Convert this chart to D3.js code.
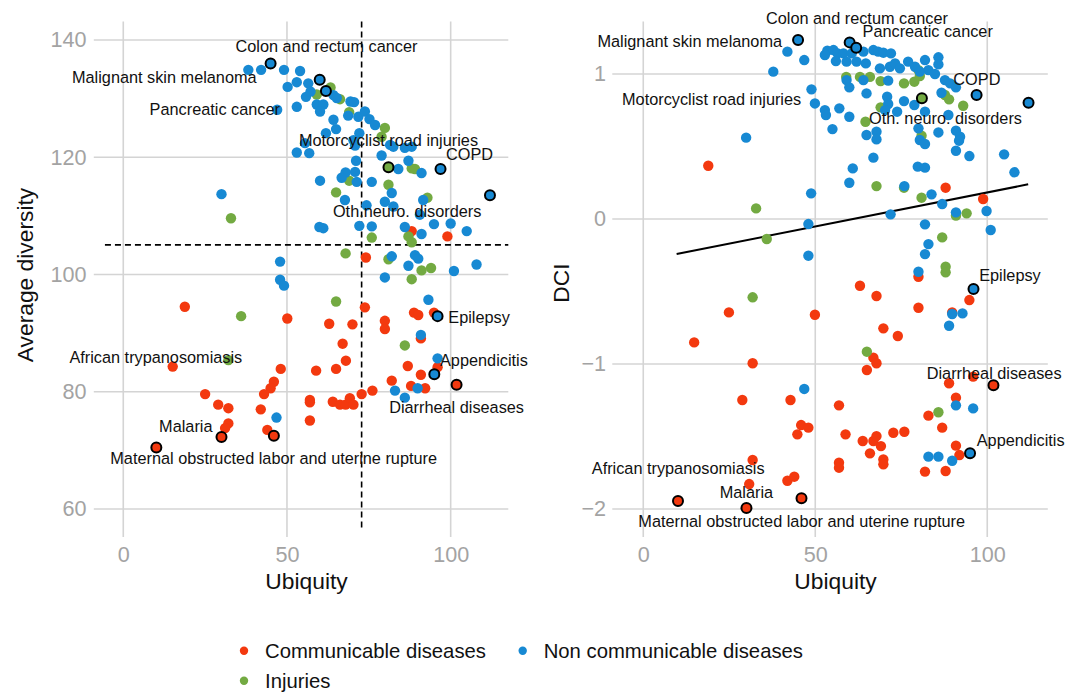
<!DOCTYPE html>
<html>
<head>
<meta charset="utf-8">
<script src="https://cdn.jsdelivr.net/npm/d3@7"></script>
<style>
  html, body { margin: 0; padding: 0; background: #ffffff; }
  svg { display: block; font-family: "Liberation Sans", Arial, Helvetica, sans-serif; }
</style>
</head>
<body>
<svg id="chart" width="1080" height="694"></svg>
<script>
// ---- categories and colours ----
const groups = ["Communicable diseases", "Non communicable diseases", "Injuries"];
const groupColors = ["#F3390F", "#1789D3", "#73AA42"];

// ---- tick values ----
const ubiquityTicks = [0, 50, 100];
const diversityTicks = [60, 80, 100, 120, 140];
const dciTicks = [-2, -1, 0, 1];

// ---- Average diversity vs ubiquity: [ubiquity, diversity] ----
const diversityCommunicable = [
  [88.1,107.4],[99.0,106.5],[74.1,102.9],[18.8,94.5],[50.1,92.5],[62.9,91.6],[70.0,91.5],[73.8,94.4],
  [79.9,92.1],[79.9,90.7],[88.8,93.5],[90.1,93.1],[94.9,93.5],[90.9,89.1],[67.0,88.2],[68.0,85.3],
  [65.0,83.9],[58.9,83.6],[48.1,83.9],[46.0,81.7],[45.0,80.6],[43.0,79.6],[42.0,77.0],[44.0,73.5],
  [25.0,79.6],[29.0,77.8],[32.1,77.2],[32.1,74.6],[31.1,73.8],[15.1,84.3],[57.0,78.6],[57.0,78.2],
  [57.0,75.1],[64.0,78.3],[66.2,77.8],[67.9,77.8],[69.2,78.9],[70.3,77.8],[72.8,79.6],[76.1,80.2],
  [82.0,81.9],[86.9,84.4],[87.9,81.0],[90.9,82.9],[92.2,80.6],[96.0,84.2]
];
const diversityNonCommunicable = [
  [38.2,134.9],[42.1,134.9],[49.1,134.9],[54.0,134.7],[50.2,132.0],[53.0,132.8],[56.5,132.6],[55.8,130.3],
  [57.2,131.2],[64.2,130.6],[65.2,130.1],[59.1,129.0],[61.1,129.0],[60.1,127.8],[53.0,128.6],[47.0,128.1],
  [69.4,129.5],[70.5,129.4],[68.7,127.1],[71.8,126.9],[73.8,127.8],[75.2,126.5],[76.9,125.5],[64.2,126.4],
  [65.0,124.8],[61.9,124.1],[70.3,122.9],[70.8,122.0],[72.1,124.1],[81.5,122.1],[82.5,121.8],[86.0,121.6],
  [88.1,121.8],[53.0,120.8],[56.8,120.7],[55.5,122.4],[78.9,120.3],[87.1,119.4],[84.0,118.0],[91.1,117.3],
  [71.1,119.4],[67.9,117.4],[70.8,117.5],[66.7,116.5],[71.3,115.8],[60.1,116.0],[75.9,115.8],[82.0,113.9],
  [67.7,112.7],[79.9,112.4],[82.5,111.6],[74.3,111.8],[91.6,112.7],[30.0,113.7],[90.6,110.2],[94.9,108.6],
  [100.0,108.7],[104.9,107.4],[72.1,108.3],[75.9,108.2],[59.9,108.1],[61.1,107.9],[86.0,108.1],[91.1,106.9],
  [82.0,103.1],[89.1,103.3],[90.1,102.7],[87.1,101.5],[101.0,100.6],[107.9,101.7],[47.9,102.2],[47.9,99.1],
  [49.1,98.1],[79.9,99.5],[93.2,95.7],[90.9,89.7],[96.0,85.7],[83.0,80.2],[86.0,79.0],[89.9,80.6],[46.8,75.6]
];
const diversityInjuries = [
  [59.1,130.7],[63.3,131.9],[66.2,129.9],[69.0,127.7],[79.9,125.0],[78.9,123.5],[88.1,118.1],[89.1,118.0],
  [69.0,116.0],[81.0,115.3],[65.0,114.0],[92.9,113.1],[32.9,109.6],[87.1,106.5],[88.1,105.5],[75.9,106.3],
  [67.9,103.6],[81.0,102.6],[91.1,100.7],[94.0,101.1],[88.1,99.2],[65.0,95.4],[36.0,92.9],[86.0,87.9],[32.1,85.4]
];

// ---- DCI vs ubiquity: [ubiquity, dci] ----
const dciCommunicable = [
  [18.9,0.367],[87.9,0.216],[98.8,0.138],[80.0,-0.398],[24.9,-0.644],[14.8,-0.851],[49.9,-0.660],[63.0,-0.460],
  [67.8,-0.531],[80.0,-0.612],[69.8,-0.754],[74.0,-0.807],[66.9,-0.956],[67.8,-0.995],[65.0,-1.041],[31.8,-0.995],
  [28.8,-1.248],[42.8,-1.248],[56.9,-1.285],[45.9,-1.421],[48.0,-1.439],[44.8,-1.485],[58.8,-1.485],[63.8,-1.531],
  [66.9,-1.531],[67.8,-1.497],[69.1,-1.566],[65.9,-1.616],[69.8,-1.658],[69.8,-1.692],[72.7,-1.474],[75.9,-1.467],
  [56.9,-1.681],[56.9,-1.715],[31.8,-1.662],[41.9,-1.805],[43.9,-1.777],[30.8,-1.828],[82.9,-1.356],[86.9,-1.439],
  [90.9,-1.563],[91.9,-1.628],[81.9,-1.742],[87.9,-1.738],[88.9,-1.133],[90.9,-1.232],[95.9,-1.087],[94.8,-0.559],
  [89.8,-0.644]
];
const dciNonCommunicable = [
  [41.9,1.154],[46.8,1.096],[37.8,1.016],[29.9,0.561],[53.5,1.161],[55.3,1.165],[56.5,1.142],[58.2,1.142],
  [60.6,1.142],[64.0,1.154],[66.9,1.165],[68.3,1.154],[69.8,1.147],[72.0,1.142],[52.8,1.131],[56.0,1.089],
  [59.1,1.085],[62.0,1.085],[64.7,1.073],[68.8,1.039],[71.7,1.050],[73.2,1.073],[74.6,1.039],[77.0,1.085],
  [79.0,1.050],[81.9,1.096],[85.8,1.115],[85.8,1.066],[82.9,1.027],[80.4,1.016],[84.8,1.000],[59.1,0.958],
  [59.9,0.908],[64.0,0.958],[64.9,0.866],[71.2,0.954],[87.7,0.958],[89.2,0.935],[90.9,0.908],[86.7,0.871],
  [48.9,0.894],[49.9,0.797],[52.8,0.751],[53.1,0.717],[57.0,0.763],[59.9,0.705],[70.9,0.843],[71.2,0.793],
  [75.8,0.813],[78.8,0.786],[73.8,0.740],[81.9,0.740],[70.3,0.751],[55.0,0.620],[64.9,0.579],[67.8,0.602],
  [67.8,0.549],[80.0,0.625],[80.4,0.545],[81.9,0.517],[85.8,0.597],[88.7,0.717],[90.9,0.609],[92.1,0.567],
  [91.8,0.540],[90.9,0.471],[94.8,0.434],[104.9,0.446],[107.9,0.322],[66.9,0.423],[60.9,0.349],[59.9,0.250],
  [79.8,0.361],[81.9,0.354],[75.9,0.227],[83.8,0.170],[86.9,0.103],[90.9,0.046],[99.8,0.055],[101.0,-0.076],
  [71.9,0.032],[48.8,0.177],[48.0,-0.035],[48.0,-0.253],[81.9,-0.037],[82.9,-0.173],[81.9,-0.242],[80.0,-0.364],
  [46.8,-1.172],[82.9,-1.639],[85.8,-1.639],[89.8,-1.667],[90.9,-1.285],[95.9,-1.306],[89.8,-0.655],[92.8,-0.651],
  [88.9,-0.736]
];
const dciInjuries = [
  [59.0,0.980],[63.0,0.980],[65.9,0.980],[69.0,0.951],[75.8,0.935],[78.8,0.947],[80.0,1.027],[80.4,0.986],
  [87.7,0.855],[88.9,0.825],[93.0,0.781],[69.0,0.770],[64.6,0.671],[80.9,0.574],[67.8,0.227],[75.8,0.216],
  [80.9,0.147],[90.9,0.023],[94.0,0.039],[86.9,-0.127],[87.9,-0.329],[87.9,-0.368],[32.8,0.073],[35.9,-0.138],
  [31.8,-0.540],[65.0,-0.915],[85.8,-1.333]
];

// ---- named diseases: group index, ubiquity, average diversity, DCI ----
const namedDiseases = ["Colon and rectum cancer", "Malignant skin melanoma", "Pancreatic cancer",
  "Motorcyclist road injuries", "COPD", "Oth. neuro. disorders", "Epilepsy", "Appendicitis",
  "Diarrheal diseases", "African trypanosomiasis", "Malaria", "Maternal obstructed labor and uterine rupture"];
const namedGroup     = [1, 1, 1, 2, 1, 1, 1, 1, 0, 0, 0, 0];
const namedUbiquity  = [60.0, 45.0, 61.9, 81.0, 96.9, 112.0, 96.0, 95.0, 101.8, 10.1, 30.0, 46.0];
const namedDiversity = [133.2, 136.0, 131.3, 118.3, 118.0, 113.5, 92.9, 83.0, 81.2, 70.5, 72.3, 72.5];
const namedDci       = [1.218, 1.234, 1.181, 0.832, 0.855, 0.802, -0.483, -1.616, -1.147, -1.945, -1.993, -1.926];
// labels drawn in the diversity panel (one abbreviation is written differently there)
const diversityLabels = namedDiseases.map(n => n === "Oth. neuro. disorders" ? "Oth.neuro. disorders" : n);

// reference lines: median split in the diversity panel, linear trend in the DCI panel
const ubiquitySplit = 72.8;
const diversitySplit = 105.05;
const dciTrend = { intercept: -0.2866, slope: 0.004697, from: 9.7, to: 111.9 };

// ---- label placement (text anchor and offset from the point, px) ----
const diversityLabelPlacement = [
  ["middle", 6.7, -33.3], ["end", -14, 13.3], ["end", -46, 18.3], ["middle", 0, -27.3],
  ["middle", 29, -14.7], ["middle", -82.8, 15.3], ["start", 10.7, 0.7], ["start", 5.7, -14.3],
  ["middle", 0, 22.3], ["middle", -0.5, -90.4], ["middle", -35.7, -10.6], ["middle", -0.2, 22.6]
];
const dciLabelPlacement = [
  ["middle", 7.3, -24], ["end", -16, 0.7], ["middle", 71.5, -17], ["end", -120.7, 1],
  ["middle", 0.3, -15.7], ["middle", -83, 15.6], ["start", 5.7, -14], ["start", 6.7, -13.3],
  ["middle", 0.7, -12.3], ["middle", 0.2, -32.7], ["middle", 0, -15.7], ["middle", 0.2, 22.4]
];

// ---- layout ----
const panelTop = 21.5, panelBottom = 537;
const ubiquityDomain = [-9, 117.6];
const tickGrey = "#a3a3a3";
const gridGrey = "#d4d4d4";
const svg = d3.select("#chart");

function drawPanel(cfg) {
  const g = svg.append("g");
  const x = d3.scaleLinear(ubiquityDomain, cfg.xRange);
  const y = d3.scaleLinear(cfg.yDomain, [panelBottom, panelTop]);

  // grid
  g.append("g").selectAll("line").data(ubiquityTicks).join("line")
    .attr("x1", d => x(d)).attr("x2", d => x(d))
    .attr("y1", panelTop).attr("y2", panelBottom)
    .attr("stroke", gridGrey).attr("stroke-width", 1.6);
  g.append("g").selectAll("line").data(cfg.yTicks).join("line")
    .attr("x1", cfg.xRange[0]).attr("x2", cfg.xRange[1])
    .attr("y1", d => y(d)).attr("y2", d => y(d))
    .attr("stroke", gridGrey).attr("stroke-width", 1.6);

  // axes (labels only)
  const xAxis = g.append("g").attr("transform", `translate(0,${panelBottom})`)
    .call(d3.axisBottom(x).tickValues(ubiquityTicks).tickFormat(d3.format("d")).tickSize(0).tickPadding(9.4));
  const yAxis = g.append("g").attr("transform", `translate(${cfg.xRange[0]},0)`)
    .call(d3.axisLeft(y).tickValues(cfg.yTicks).tickFormat(d3.format("d")).tickSize(0).tickPadding(cfg.yPad));
  [xAxis, yAxis].forEach(a => {
    a.attr("font-family", null).attr("font-size", 21.6);
    a.select(".domain").remove();
    a.selectAll("text").attr("fill", tickGrey);
  });

  // axis titles
  g.append("text").attr("x", cfg.xTitleX).attr("y", 588.5)
    .attr("text-anchor", "middle").attr("font-size", 22.8).attr("fill", "#111")
    .text("Ubiquity");
  g.append("text")
    .attr("transform", `translate(${cfg.yTitleX},${cfg.yTitleY}) rotate(-90)`)
    .attr("text-anchor", "middle").attr("font-size", 22.8).attr("fill", "#111")
    .text(cfg.yTitle);

  if (cfg.decorate) cfg.decorate(g, x, y);

  // points: communicable first, then injuries, non communicable on top
  [[0, cfg.series[0]], [2, cfg.series[2]], [1, cfg.series[1]]].forEach(([gi, pts]) => {
    g.append("g").selectAll("circle").data(pts).join("circle")
      .attr("cx", d => x(d[0])).attr("cy", d => y(d[1])).attr("r", 5.2)
      .attr("fill", groupColors[gi]);
  });

  // named diseases
  const named = namedDiseases.map((n, i) => ({
    label: cfg.labels[i], group: namedGroup[i], ux: namedUbiquity[i], v: cfg.values[i], place: cfg.placement[i]
  }));
  g.append("g").selectAll("circle").data(named).join("circle")
    .attr("cx", d => x(d.ux)).attr("cy", d => y(d.v)).attr("r", 5)
    .attr("fill", d => groupColors[d.group]).attr("stroke", "#000").attr("stroke-width", 2);
  g.append("g").selectAll("text").data(named).join("text")
    .attr("x", d => x(d.ux) + d.place[1]).attr("y", d => y(d.v) + d.place[2])
    .attr("dy", "0.36em").attr("text-anchor", d => d.place[0])
    .attr("font-size", 16.3).attr("fill", "#111")
    .text(d => d.label);
}

// left panel: average diversity
drawPanel({
  xRange: [93.8, 508.3], yDomain: [55.23, 143.15], yTicks: diversityTicks, yPad: 7.3,
  xTitleX: 306.5, yTitleX: 33.3, yTitleY: 275, yTitle: "Average diversity",
  series: [diversityCommunicable, diversityNonCommunicable, diversityInjuries],
  values: namedDiversity, labels: diversityLabels, placement: diversityLabelPlacement,
  decorate: (g, x, y) => {
    g.append("line")
      .attr("x1", x(ubiquitySplit)).attr("x2", x(ubiquitySplit))
      .attr("y1", panelTop).attr("y2", y(56.7))
      .attr("stroke", "#000").attr("stroke-width", 1.6).attr("stroke-dasharray", "6,4");
    g.append("line")
      .attr("x1", x(-5.6)).attr("x2", x(ubiquityDomain[1]))
      .attr("y1", y(diversitySplit)).attr("y2", y(diversitySplit))
      .attr("stroke", "#000").attr("stroke-width", 1.6).attr("stroke-dasharray", "6,4");
  }
});

// right panel: DCI
drawPanel({
  xRange: [612.3, 1047.8], yDomain: [-2.193, 1.362], yTicks: dciTicks, yPad: 6.3,
  xTitleX: 835.5, yTitleX: 569.3, yTitleY: 283, yTitle: "DCI",
  series: [dciCommunicable, dciNonCommunicable, dciInjuries],
  values: namedDci, labels: namedDiseases, placement: dciLabelPlacement,
  decorate: (g, x, y) => {
    const t = dciTrend;
    g.append("line")
      .attr("x1", x(t.from)).attr("y1", y(t.intercept + t.slope * t.from))
      .attr("x2", x(t.to)).attr("y2", y(t.intercept + t.slope * t.to))
      .attr("stroke", "#000").attr("stroke-width", 2);
  }
});

// legend
const legendItems = [
  { i: 0, x: 244, y: 650.7 },
  { i: 1, x: 522.7, y: 650.7 },
  { i: 2, x: 244, y: 680.7 }
];
const legend = svg.append("g");
legend.selectAll("circle").data(legendItems).join("circle")
  .attr("cx", d => d.x).attr("cy", d => d.y).attr("r", 4.2)
  .attr("fill", d => groupColors[d.i]);
legend.selectAll("text").data(legendItems).join("text")
  .attr("x", d => d.x + 21).attr("y", d => d.y).attr("dy", "0.36em")
  .attr("font-size", 20.3).attr("fill", "#111")
  .text(d => groups[d.i]);
</script>
</body>
</html>
